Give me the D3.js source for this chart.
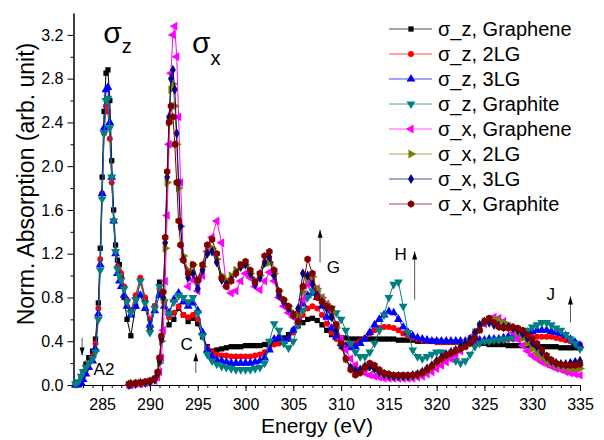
<!DOCTYPE html>
<html>
<head>
<meta charset="utf-8">
<script src="https://cdn.jsdelivr.net/npm/d3@7"></script>
<style>
  body { margin: 0; background: #fff; }
  svg { display: block; font-family: "Liberation Sans", Arial, sans-serif; }
</style>
</head>
<body>
<svg id="graph"></svg>
<script>
// photon energy grids (eV) -- sigma_z series and sigma_x series
const energyZ = [282.2, 282.5, 282.8, 283, 283.3, 283.6, 284, 284.3, 284.6, 284.8,
  285, 285.2, 285.4, 285.6, 285.8, 286, 286.2, 286.4, 286.6, 286.8,
  287, 287.3, 287.6, 288, 288.5, 289, 289.5, 290, 290.5, 291,
  291.5, 292, 292.5, 293, 293.5, 294, 294.5, 295, 295.5,
  296, 296.5, 297, 297.5, 298, 298.5, 299, 299.5, 300, 300.5,
  301, 301.5, 302, 302.5, 303, 303.5, 304, 304.5, 305, 305.5,
  306, 306.5, 307, 307.5, 308, 308.5, 309, 309.5, 310, 310.5,
  311, 311.5, 312, 312.5, 313, 313.5, 314, 314.5, 315, 315.5,
  316, 316.5, 317, 317.5, 318, 318.5, 319, 319.5, 320, 320.5,
  321, 321.5, 322, 322.5, 323, 323.5, 324, 324.5, 325, 325.5,
  326, 326.5, 327, 327.5, 328, 328.5, 329, 329.5, 330, 330.5,
  331, 331.5, 332, 332.5, 333, 333.5, 334, 334.5, 335]

const energyX = [287.8, 288, 288.5, 289, 289.5, 290, 290.5, 290.8, 291, 291.2,
  291.4, 291.6, 291.8, 292, 292.2, 292.4, 292.6, 292.8, 293, 293.2,
  293.5, 294, 294.5, 295, 295.5,
  296, 296.5, 297, 297.5, 298, 298.5, 299, 299.5, 300, 300.5,
  301, 301.5, 302, 302.5, 303, 303.5, 304, 304.5, 305, 305.5,
  306, 306.5, 307, 307.5, 308, 308.5, 309, 309.5, 310, 310.5,
  311, 311.5, 312, 312.5, 313, 313.5, 314, 314.5, 315, 315.5,
  316, 316.5, 317, 317.5, 318, 318.5, 319, 319.5, 320, 320.5,
  321, 321.5, 322, 322.5, 323, 323.5, 324, 324.5, 325, 325.5,
  326, 326.5, 327, 327.5, 328, 328.5, 329, 329.5, 330, 330.5,
  331, 331.5, 332, 332.5, 333, 333.5, 334, 334.5, 335]

const zGraphene = [0.0, 0.02, 0.06, 0.12, 0.19, 0.25, 0.31, 0.42, 0.75, 1.25,
  1.9, 2.5, 2.85, 2.88, 2.6, 2.05, 1.6, 1.28, 1.14, 1.1,
  1.0, 0.8, 0.6, 0.45, 0.72, 0.97, 0.78, 0.52, 0.72, 0.94,
  0.76, 0.55, 0.6, 0.7, 0.64, 0.58, 0.61, 0.56, 0.44,
  0.35, 0.31, 0.32, 0.33, 0.34, 0.35, 0.35, 0.35, 0.36, 0.36,
  0.36, 0.36, 0.37, 0.37, 0.38, 0.4, 0.43, 0.46, 0.5, 0.54,
  0.57, 0.6, 0.61, 0.59, 0.55, 0.5, 0.46, 0.44, 0.43, 0.43,
  0.42, 0.42, 0.42, 0.42, 0.42, 0.42, 0.42, 0.42, 0.42, 0.42,
  0.41, 0.41, 0.41, 0.41, 0.4, 0.4, 0.4, 0.4, 0.4, 0.39,
  0.39, 0.39, 0.39, 0.39, 0.38, 0.38, 0.38, 0.38, 0.38, 0.37,
  0.37, 0.37, 0.37, 0.36, 0.36, 0.36, 0.36, 0.36, 0.35, 0.35,
  0.35, 0.35, 0.35, 0.35, 0.34, 0.34, 0.34, 0.34, 0.34]

const z2LG = [0.0, 0.01, 0.04, 0.08, 0.14, 0.2, 0.26, 0.38, 0.7, 1.15,
  1.75, 2.3, 2.55, 2.5, 2.25, 1.85, 1.5, 1.22, 1.08, 1.04,
  1.02, 0.9, 0.78, 0.68, 0.82, 0.98, 0.8, 0.6, 0.72, 0.88,
  0.76, 0.62, 0.66, 0.72, 0.64, 0.62, 0.64, 0.6, 0.46,
  0.34, 0.3, 0.28, 0.27, 0.27, 0.26, 0.26, 0.26, 0.26, 0.26,
  0.27, 0.28, 0.3, 0.33, 0.37, 0.38, 0.39, 0.42, 0.48, 0.56,
  0.64, 0.7, 0.72, 0.7, 0.64, 0.56, 0.48, 0.42, 0.39, 0.37,
  0.37, 0.38, 0.4, 0.43, 0.47, 0.5, 0.52, 0.53, 0.53, 0.52,
  0.5, 0.47, 0.45, 0.43, 0.42, 0.41, 0.4, 0.4, 0.39, 0.39,
  0.39, 0.39, 0.39, 0.39, 0.39, 0.39, 0.39, 0.4, 0.4, 0.4,
  0.41, 0.41, 0.41, 0.42, 0.42, 0.42, 0.43, 0.43, 0.44, 0.44,
  0.44, 0.44, 0.44, 0.43, 0.42, 0.41, 0.4, 0.38, 0.37]

const z3LG = [0.0, 0.0, 0.02, 0.05, 0.1, 0.16, 0.22, 0.33, 0.65, 1.1,
  1.75, 2.35, 2.7, 2.72, 2.4, 1.9, 1.5, 1.2, 1.02, 0.95,
  0.9, 0.82, 0.72, 0.64, 0.72, 0.82, 0.7, 0.55, 0.68, 0.82,
  0.72, 0.66, 0.78, 0.84, 0.76, 0.72, 0.75, 0.68, 0.48,
  0.32, 0.26, 0.23, 0.22, 0.21, 0.2, 0.2, 0.2, 0.2, 0.2,
  0.21, 0.22, 0.25, 0.32, 0.42, 0.44, 0.4, 0.42, 0.5, 0.62,
  0.74, 0.82, 0.84, 0.8, 0.72, 0.62, 0.52, 0.44, 0.38, 0.35,
  0.34, 0.35, 0.38, 0.42, 0.48, 0.55, 0.6, 0.64, 0.67, 0.66,
  0.6, 0.53, 0.48, 0.45, 0.43, 0.42, 0.41, 0.4, 0.4, 0.4,
  0.4, 0.4, 0.4, 0.4, 0.4, 0.4, 0.41, 0.41, 0.41, 0.42,
  0.42, 0.42, 0.43, 0.44, 0.45, 0.46, 0.47, 0.48, 0.49, 0.5,
  0.5, 0.5, 0.49, 0.48, 0.47, 0.45, 0.42, 0.39, 0.36]

const zGraphite = [0.01, 0.03, 0.08, 0.12, 0.16, 0.2, 0.24, 0.3, 0.6, 1.05,
  1.7, 2.3, 2.6, 2.62, 2.35, 1.9, 1.5, 1.22, 1.06, 1.0,
  0.96, 0.88, 0.76, 0.66, 0.78, 0.95, 0.75, 0.48, 0.7, 0.9,
  0.76, 0.65, 0.76, 0.82, 0.8, 0.76, 0.8, 0.66, 0.45,
  0.28, 0.22, 0.19, 0.17, 0.16, 0.15, 0.14, 0.14, 0.14, 0.14,
  0.15, 0.16, 0.2, 0.4, 0.56, 0.5, 0.38, 0.34, 0.4, 0.55,
  0.68, 0.8, 0.86, 0.84, 0.78, 0.72, 0.7, 0.66, 0.6, 0.5,
  0.38, 0.3, 0.26, 0.26, 0.3, 0.38, 0.5, 0.64, 0.8, 0.92,
  0.94, 0.72, 0.48, 0.32, 0.26, 0.24, 0.26, 0.28, 0.3, 0.3,
  0.28, 0.25, 0.22, 0.2, 0.22, 0.28, 0.35, 0.38, 0.4, 0.4,
  0.41, 0.41, 0.42, 0.42, 0.43, 0.45, 0.48, 0.5, 0.53, 0.55,
  0.57, 0.57, 0.55, 0.52, 0.5, 0.46, 0.42, 0.38, 0.33]

const xGraphene = [0.0, 0.0, 0.01, 0.01, 0.02, 0.03, 0.04, 0.07, 0.12, 0.25,
  0.5, 0.95, 1.55, 2.2, 2.85, 3.2, 3.28, 3.0, 2.45, 1.85,
  1.15, 0.9, 0.96, 0.86, 1.0,
  1.22, 1.35, 1.5, 1.3, 0.9, 0.84, 0.86, 0.95, 1.02, 0.98,
  0.9, 0.87, 0.95, 1.03, 0.95, 0.8, 0.72, 0.66, 0.62, 0.62,
  0.78, 0.92, 0.96, 0.88, 0.8, 0.74, 0.66, 0.55, 0.42, 0.32,
  0.24, 0.18, 0.14, 0.11, 0.09, 0.08, 0.07, 0.06, 0.06, 0.06,
  0.06, 0.06, 0.06, 0.06, 0.07, 0.08, 0.1, 0.12, 0.15, 0.18,
  0.21, 0.24, 0.27, 0.31, 0.36, 0.41, 0.46, 0.51, 0.56, 0.6,
  0.62, 0.61, 0.58, 0.54, 0.48, 0.42, 0.36, 0.31, 0.27, 0.24,
  0.21, 0.19, 0.17, 0.15, 0.14, 0.12, 0.11, 0.1, 0.09]

const x2LG = [0.0, 0.01, 0.01, 0.02, 0.02, 0.03, 0.05, 0.1, 0.2, 0.4,
  0.78, 1.25, 1.85, 2.4, 2.7, 2.75, 2.55, 2.2, 1.8, 1.45,
  1.18, 1.05, 1.1, 0.95, 1.08,
  1.22, 1.25, 1.15, 1.0, 0.96, 1.0, 1.05, 1.1, 1.1, 1.02,
  0.96, 1.0, 1.1, 1.12, 1.02, 0.86, 0.78, 0.72, 0.66, 0.64,
  0.85, 0.97, 0.99, 0.88, 0.8, 0.74, 0.66, 0.52, 0.36, 0.24,
  0.16, 0.12, 0.13, 0.16, 0.16, 0.14, 0.12, 0.1, 0.09, 0.08,
  0.08, 0.08, 0.08, 0.08, 0.09, 0.11, 0.13, 0.16, 0.2, 0.23,
  0.26, 0.29, 0.31, 0.34, 0.38, 0.42, 0.48, 0.54, 0.58, 0.6,
  0.6, 0.59, 0.57, 0.55, 0.52, 0.48, 0.43, 0.38, 0.33, 0.29,
  0.25, 0.22, 0.2, 0.18, 0.17, 0.16, 0.15, 0.15, 0.15]

const x3LG = [0.0, 0.01, 0.01, 0.02, 0.02, 0.03, 0.05, 0.1, 0.22, 0.42,
  0.8, 1.3, 1.9, 2.45, 2.8, 2.88, 2.7, 2.3, 1.85, 1.45,
  1.15, 0.98, 1.02, 0.88, 1.05,
  1.2, 1.22, 1.12, 0.96, 0.92, 0.96, 1.02, 1.08, 1.1, 1.02,
  0.92, 0.98, 1.12, 1.17, 1.0, 0.82, 0.76, 0.7, 0.64, 0.7,
  1.02, 1.0, 0.92, 0.82, 0.76, 0.7, 0.62, 0.5, 0.36, 0.24,
  0.16, 0.13, 0.14, 0.17, 0.17, 0.15, 0.12, 0.1, 0.09, 0.08,
  0.08, 0.08, 0.08, 0.09, 0.1, 0.12, 0.15, 0.18, 0.22, 0.25,
  0.28, 0.3, 0.32, 0.35, 0.38, 0.42, 0.48, 0.55, 0.58, 0.57,
  0.55, 0.54, 0.53, 0.53, 0.52, 0.5, 0.47, 0.43, 0.39, 0.35,
  0.3, 0.26, 0.22, 0.2, 0.19, 0.19, 0.2, 0.21, 0.22]

const xGraphite = [0.01, 0.01, 0.02, 0.02, 0.03, 0.04, 0.06, 0.12, 0.25, 0.45,
  0.85, 1.35, 1.95, 2.4, 2.55, 2.45, 2.2, 1.85, 1.5, 1.28,
  1.14, 1.02, 1.1, 0.96, 1.1,
  1.28, 1.33, 1.2, 0.98, 0.9, 0.95, 1.02, 1.1, 1.13, 1.05,
  0.94, 1.02, 1.18, 1.22, 1.05, 0.86, 0.78, 0.72, 0.64, 0.58,
  0.9, 1.15, 1.02, 0.8, 0.76, 0.72, 0.7, 0.55, 0.38, 0.24,
  0.14, 0.09, 0.11, 0.16, 0.2, 0.18, 0.14, 0.11, 0.1, 0.09,
  0.09, 0.09, 0.09, 0.09, 0.1, 0.11, 0.14, 0.17, 0.21, 0.24,
  0.27, 0.29, 0.31, 0.33, 0.35, 0.38, 0.43, 0.5, 0.58, 0.61,
  0.57, 0.53, 0.52, 0.52, 0.53, 0.52, 0.5, 0.46, 0.42, 0.38,
  0.32, 0.27, 0.23, 0.2, 0.19, 0.18, 0.18, 0.18, 0.19]

const seriesNames = ['σ_z, Graphene', 'σ_z, 2LG', 'σ_z, 3LG', 'σ_z, Graphite',
                     'σ_x, Graphene', 'σ_x, 2LG', 'σ_x, 3LG', 'σ_x, Graphite']
const xTicks = [285, 290, 295, 300, 305, 310, 315, 320, 325, 330, 335]
const yTicks = [0, 0.4, 0.8, 1.2, 1.6, 2.0, 2.4, 2.8, 3.2]

// hexagon marker, d3 has none
const symbolHexagon = {
    draw(context, size) {
        let r = Math.sqrt(size / 2.598)
        for (let i = 0; i < 6; i++) {
            let a = Math.PI / 3 * i + Math.PI / 6
            if (i === 0) context.moveTo(r * Math.cos(a), r * Math.sin(a))
            else context.lineTo(r * Math.cos(a), r * Math.sin(a))
        }
        context.closePath()
    }
}

const styles = [
    {color: '#000000', symbol: d3.symbolSquare, size: 28, rotate: 0},
    {color: '#ff0000', symbol: d3.symbolCircle, size: 28, rotate: 0},
    {color: '#0000ff', symbol: d3.symbolTriangle, size: 34, rotate: 0},
    {color: '#008080', symbol: d3.symbolTriangle, size: 34, rotate: 180},
    {color: '#ff00ff', symbol: d3.symbolTriangle, size: 34, rotate: -90},
    {color: '#808000', symbol: d3.symbolTriangle, size: 34, rotate: 90},
    {color: '#000080', symbol: d3.symbolDiamond, size: 30, rotate: 0},
    {color: '#800000', symbol: symbolHexagon, size: 36, rotate: 0}
]

const seriesValues = [zGraphene, z2LG, z3LG, zGraphite, xGraphene, x2LG, x3LG, xGraphite]
const seriesEnergy = [energyZ, energyZ, energyZ, energyZ, energyX, energyX, energyX, energyX]

const series = seriesNames.map((name, i) => ({
    name,
    points: seriesValues[i].map((v, j) => ({e: seriesEnergy[i][j], v})),
    ...styles[i]
}))

function drawGraph() {
    let fullWidth = 604
    let fullHeight = 440

    let svg = d3.select('svg#graph')
                .attr('width', fullWidth)
                .attr('height', fullHeight)

    svg.append('rect')
       .attr('width', fullWidth)
       .attr('height', fullHeight)
       .attr('fill', '#fff')

    let x = d3.scaleLinear().domain([282, 335]).range([73.5, 580])
    let y = d3.scaleLinear().domain([0, 3.4]).range([385, 13])

    // minor ticks first, then major axes with labels
    svg.append('g')
       .attr('transform', 'translate(0,385)')
       .call(d3.axisBottom(x).tickValues(d3.range(283, 335, 1)).tickSize(3).tickFormat('').tickSizeOuter(0))
    svg.append('g')
       .attr('transform', 'translate(73.5,0)')
       .call(d3.axisLeft(y).tickValues(d3.range(0.2, 3.4, 0.4)).tickSize(3).tickFormat('').tickSizeOuter(0))

    svg.append('g')
       .attr('transform', 'translate(0,385)')
       .call(d3.axisBottom(x).tickValues(xTicks).tickSize(6).tickSizeOuter(0).tickPadding(8))
    svg.append('g')
       .attr('transform', 'translate(73.5,0)')
       .call(d3.axisLeft(y).tickValues(yTicks).tickSize(6).tickSizeOuter(0).tickPadding(4)
       .tickFormat(d3.format('.1f')))

    svg.selectAll('.tick text').attr('font-size', 16).attr('fill', '#000')
       .attr('font-family', '"Liberation Sans", Arial, sans-serif')
    svg.selectAll('.domain, .tick line').attr('stroke', '#000').attr('stroke-width', 1)

    svg.append('text')
       .attr('x', 317).attr('y', 433)
       .attr('text-anchor', 'middle')
       .attr('font-size', 21)
       .text('Energy (eV)')

    svg.append('text')
       .attr('transform', 'translate(34,184) rotate(-90)')
       .attr('text-anchor', 'middle')
       .attr('font-size', 23)
       .text('Norm. Absorption (arb. unit)')

    let line = d3.line().x(d => x(d.e)).y(d => y(d.v))

    let groups = svg.append('g').selectAll('g.series')
                    .data(series)
                    .join('g')
                    .attr('class', 'series')

    groups.append('path')
          .attr('d', d => line(d.points))
          .attr('fill', 'none')
          .attr('stroke', d => d.color)
          .attr('stroke-width', 1)

    groups.each(function(s) {
        let sym = d3.symbol().type(s.symbol).size(s.size)
        d3.select(this).selectAll('path.marker')
          .data(s.points)
          .join('path')
          .attr('class', 'marker')
          .attr('d', sym)
          .attr('fill', s.color)
          .attr('transform', d => `translate(${x(d.e)},${y(d.v)}) rotate(${s.rotate})`)
    })

    // legend
    let legend = svg.append('g').selectAll('g')
                    .data(series)
                    .join('g')
                    .attr('transform', (d, i) => `translate(389,${29 + i * 25})`)
    legend.append('line')
          .attr('x1', 0).attr('x2', 43)
          .attr('stroke', d => d.color)
          .attr('stroke-opacity', 0.7)
    legend.append('path')
          .attr('d', d => d3.symbol().type(d.symbol).size(d.size)())
          .attr('transform', d => `translate(22,0) rotate(${d.rotate})`)
          .attr('fill', d => d.color)
    legend.append('text')
          .attr('x', 49).attr('y', 7)
          .attr('font-size', 20)
          .text(d => d.name)

    // sigma labels
    let sz = svg.append('text').attr('x', x(285.1)).attr('y', y(3.13)).attr('font-size', 30)
    sz.append('tspan').text('σ')
    sz.append('tspan').attr('font-size', 20).attr('dy', 10).text('z')
    let sx = svg.append('text').attr('x', x(294.4)).attr('y', y(3.035)).attr('font-size', 30)
    sx.append('tspan').text('σ')
    sx.append('tspan').attr('font-size', 20).attr('dy', 12).text('x')

    // feature labels with arrows
    let marks = [
        {label: 'G', lx: 308.5, ly: 1.02, ax: 307.8, a0: 1.12, a1: 1.42},
        {label: 'H', lx: 315.6, ly: 1.14, ax: 317.7, a0: 0.78, a1: 1.22},
        {label: 'J', lx: 331.5, ly: 0.78, ax: 334.0, a0: 0.57, a1: 0.81},
        {label: 'C', lx: 293.2, ly: 0.32, ax: 294.8, a0: 0.11, a1: 0.29},
        {label: 'A2', lx: 284.1, ly: 0.09, ax: 282.9, a0: 0.43, a1: 0.27}
    ]
    let ann = svg.append('g').selectAll('g').data(marks).join('g')
    ann.append('text')
       .attr('x', d => x(d.lx)).attr('y', d => y(d.ly))
       .attr('font-size', 17)
       .text(d => d.label)
    ann.append('line')
       .attr('x1', d => x(d.ax)).attr('x2', d => x(d.ax))
       .attr('y1', d => y(d.a0)).attr('y2', d => y(d.a1))
       .attr('stroke', '#555').attr('stroke-width', 1)
    ann.append('path')
       .attr('d', d => {
           let px = x(d.ax), tip = y(d.a1)
           let dir = d.a1 > d.a0 ? 1 : -1
           return `M${px},${tip} L${px - 2.5},${tip + dir * 8} L${px + 2.5},${tip + dir * 8} Z`
       })
       .attr('fill', '#000')
}

drawGraph()
</script>
</body>
</html>
